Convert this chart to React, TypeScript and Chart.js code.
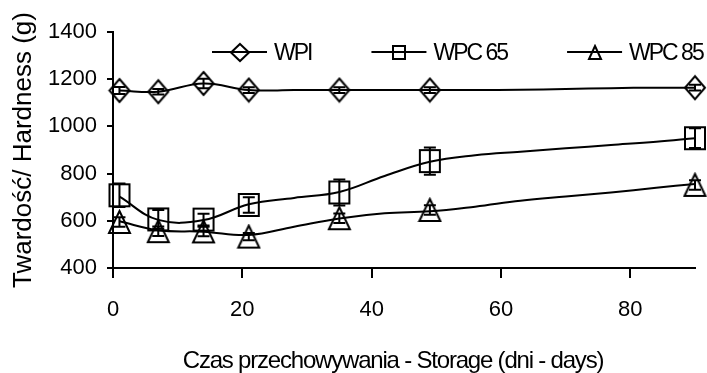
import React, { useEffect, useRef } from "react";
import { Chart, registerables } from "chart.js";

Chart.register(...registerables);

// ---- data ----
const seriesLabels = ["WPI", "WPC 65", "WPC 85"];
const markerDays = [1, 7, 14, 21, 35, 49, 90];
const wpiValues = [1152, 1147, 1182, 1154, 1154, 1154, 1164];
const wpiErrors = [15, 12, 20, 12, 12, 12, 12];
const wpc65Values = [708, 606, 605, 667, 720, 853, 950];
const wpc65Errors = [50, 40, 25, 33, 55, 58, 42];
const wpc85Values = [595, 556, 555, 533, 611, 646, 752];
const wpc85Errors = [20, 20, 20, 15, 20, 20, 20];

const lineDays = [1, 7, 14, 21, 28, 35, 42, 49, 56, 63, 70, 77, 84, 90];
const wpiLine = [1152, 1147, 1182, 1154, 1154, 1154, 1154, 1154, 1154, 1155, 1158, 1162, 1164, 1164];
const wpc65Line = [702, 604, 603, 670, 697, 722, 790, 850, 878, 893, 907, 921, 935, 950];
const wpc85Line = [598, 560, 554, 540, 575, 610, 632, 640, 660, 685, 703, 720, 740, 756];

const xTicks = [0, 20, 40, 60, 80];
const yMin = 400;
const yMax = 1400;
const yStep = 200;
const xTitle = "Czas przechowywania - Storage (dni - days)";
const yTitle = "Twardość/ Hardness (g)";

const FONT = "'Liberation Sans', Arial, sans-serif";

type Shape = "diamond" | "square" | "triangle";

function makeMarker(shape: Shape, w: number, h: number, lw = 2): HTMLCanvasElement {
  const c = document.createElement("canvas");
  c.width = w + lw * 2;
  c.height = h + lw * 2;
  const ctx = c.getContext("2d")!;
  ctx.strokeStyle = "#000";
  ctx.lineWidth = lw;
  ctx.lineJoin = "miter";
  const x0 = lw;
  const y0 = lw;
  ctx.beginPath();
  if (shape === "diamond") {
    ctx.moveTo(x0 + w / 2, y0);
    ctx.lineTo(x0 + w, y0 + h / 2);
    ctx.lineTo(x0 + w / 2, y0 + h);
    ctx.lineTo(x0, y0 + h / 2);
    ctx.closePath();
  } else if (shape === "square") {
    ctx.rect(x0, y0, w, h);
  } else {
    ctx.moveTo(x0 + w / 2, y0);
    ctx.lineTo(x0 + w, y0 + h);
    ctx.lineTo(x0, y0 + h);
    ctx.closePath();
  }
  ctx.stroke();
  return c;
}

export default function App() {
  const ref = useRef<HTMLCanvasElement | null>(null);

  useEffect(() => {
    if (!ref.current) return;
    const mDiamond = makeMarker("diamond", 20, 23);
    const mSquare = makeMarker("square", 20, 22);
    const mTriangle = makeMarker("triangle", 21, 22);
    const lDiamond = makeMarker("diamond", 18, 17);
    const lSquare = makeMarker("square", 12, 13);
    const lTriangle = makeMarker("triangle", 12, 13);

    const markerSets = [
      { values: wpiValues, errors: wpiErrors, img: mDiamond },
      { values: wpc65Values, errors: wpc65Errors, img: mSquare },
      { values: wpc85Values, errors: wpc85Errors, img: mTriangle },
    ];
    const lineSets = [wpiLine, wpc65Line, wpc85Line];
    const legendImgs = [lDiamond, lSquare, lTriangle];

    const datasets: any[] = [];
    lineSets.forEach((vals, i) => {
      datasets.push({
        label: seriesLabels[i] + " line",
        data: lineDays.map((d, j) => ({ x: d, y: vals[j] })),
        showLine: true,
        borderColor: "#000",
        borderWidth: 2,
        pointRadius: 0,
        tension: 0.4,
        fill: false,
        clip: false,
      });
    });
    markerSets.forEach((s, i) => {
      datasets.push({
        label: seriesLabels[i],
        data: markerDays.map((d, j) => ({ x: d, y: s.values[j] })),
        showLine: false,
        pointStyle: s.img,
        pointRadius: 10,
        borderColor: "#000",
        backgroundColor: "transparent",
        clip: false,
      });
    });

    const errorBars = {
      id: "errorBars",
      afterDatasetsDraw(chart: any) {
        const ctx = chart.ctx;
        const xs = chart.scales.x;
        const ys = chart.scales.y;
        ctx.save();
        ctx.strokeStyle = "#000";
        ctx.lineWidth = 2;
        markerSets.forEach((s) => {
          markerDays.forEach((d, j) => {
            const px = xs.getPixelForValue(d);
            const top = ys.getPixelForValue(s.values[j] + s.errors[j]);
            const bot = ys.getPixelForValue(s.values[j] - s.errors[j]);
            ctx.beginPath();
            ctx.moveTo(px, top);
            ctx.lineTo(px, bot);
            ctx.moveTo(px - 6, top);
            ctx.lineTo(px + 6, top);
            ctx.moveTo(px - 6, bot);
            ctx.lineTo(px + 6, bot);
            ctx.stroke();
          });
        });
        ctx.restore();
      },
    };

    const texts = {
      id: "texts",
      afterDraw(chart: any) {
        const ctx = chart.ctx;
        // legend
        ctx.save();
        ctx.font = `23px ${FONT}`;
        ctx.letterSpacing = "-2px";
        ctx.fillStyle = "#000";
        ctx.strokeStyle = "#000";
        ctx.lineWidth = 2;
        ctx.textBaseline = "alphabetic";
        ctx.textAlign = "left";
        let x = 212;
        const y = 52;
        seriesLabels.forEach((lab, i) => {
          ctx.beginPath();
          ctx.moveTo(x, y);
          ctx.lineTo(x + 55, y);
          ctx.stroke();
          const img = legendImgs[i];
          ctx.drawImage(img, Math.round(x + 27.5 - img.width / 2), Math.round(y - img.height / 2));
          const tx = x + 62;
          ctx.fillText(lab, tx, y + 8);
          x = tx + ctx.measureText(lab).width + 60;
        });
        ctx.restore();
        // x-axis title
        ctx.save();
        ctx.font = `24px ${FONT}`;
        ctx.letterSpacing = "-1.2px";
        ctx.fillStyle = "#000";
        ctx.textBaseline = "alphabetic";
        ctx.textAlign = "center";
        const area = chart.chartArea;
        ctx.fillText(xTitle, (area.left + area.right) / 2 - 11, 368);
        ctx.restore();
      },
    };

    const chart = new Chart(ref.current, {
      type: "scatter",
      data: { datasets },
      options: {
        animation: false,
        responsive: false,
        devicePixelRatio: 1,
        layout: { padding: { left: 0, right: 12, top: 32, bottom: 0 } },
        plugins: {
          legend: { display: false },
          tooltip: { enabled: false },
        },
        scales: {
          x: {
            type: "linear",
            min: 0,
            max: 90,
            afterBuildTicks(scale: any) {
              scale.ticks = xTicks.map((v) => ({ value: v }));
            },
            afterFit(scale: any) {
              scale.height = 105;
            },
            grid: {
              drawOnChartArea: false,
              drawTicks: true,
              tickLength: 10,
              color: "#000",
              lineWidth: 2,
            },
            border: { display: true, color: "#000", width: 2 },
            ticks: {
              color: "#000",
              padding: 19,
              font: { family: FONT, size: 22 },
              maxRotation: 0,
              callback: (v: any) => String(v),
            },
            title: { display: false, text: xTitle },
          },
          y: {
            type: "linear",
            min: yMin,
            max: yMax,
            afterFit(scale: any) {
              scale.width = 113;
            },
            grid: {
              drawOnChartArea: false,
              drawTicks: true,
              tickLength: 6,
              color: "#000",
              lineWidth: 2,
            },
            border: { display: true, color: "#000", width: 2 },
            ticks: {
              stepSize: yStep,
              color: "#000",
              padding: 10,
              font: { family: FONT, size: 22 },
              callback: (v: any) => String(v),
            },
            title: {
              display: true,
              text: yTitle,
              color: "#000",
              font: { family: FONT, size: 26 },
              padding: { top: 8, bottom: 0 },
            },
          },
        },
      },
      plugins: [errorBars, texts],
    });
    return () => chart.destroy();
  }, []);

  return (
    <div style={{ position: "fixed", left: 0, top: 0, width: 707, height: 373, background: "#fff" }}>
      <canvas ref={ref} width={707} height={373} style={{ width: 707, height: 373 }} />
    </div>
  );
}
